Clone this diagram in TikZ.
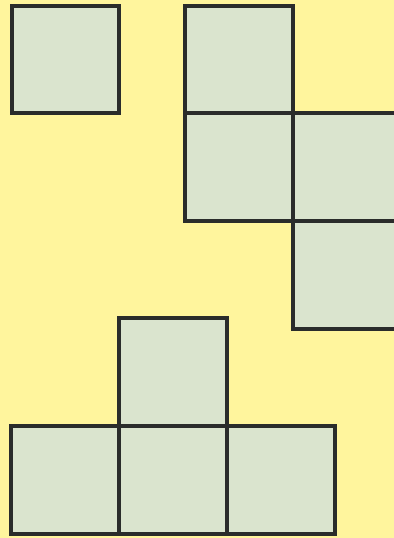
\documentclass[tikz,border=0pt]{standalone}
\usepackage{xcolor}
\usepackage{tikz}
\usetikzlibrary{positioning}

\definecolor{bgyellow}{HTML}{FFF59D}
\definecolor{cellgreen}{HTML}{DAE4CE}
\definecolor{edgegray}{HTML}{2A2C2B}

\begin{document}
\begin{tikzpicture}[
    x=0.02cm, y=-0.02cm,
    cell/.style={rectangle, draw=edgegray, fill=cellgreen, line width=0.08cm,
        minimum size=2.16cm, inner sep=0pt, outer sep=0pt}
]
\fill[bgyellow] (0,0) rectangle (394,538);
\useasboundingbox (0,0) rectangle (394,538);

\node[cell] (single) at (65.5,59.5) {};

\node[cell] (topA) at (239,59.5) {};
\node[cell, below=0pt of topA] (topB) {};
\node[cell, right=0pt of topB] (topC) {};
\node[cell, below=0pt of topC] (topD) {};

\node[cell] (baseMid) at (173,480) {};
\node[cell, left=0pt of baseMid] (baseLeft) {};
\node[cell, right=0pt of baseMid] (baseRight) {};
\node[cell, above=0pt of baseMid] (baseTop) {};
\end{tikzpicture}
\end{document}
